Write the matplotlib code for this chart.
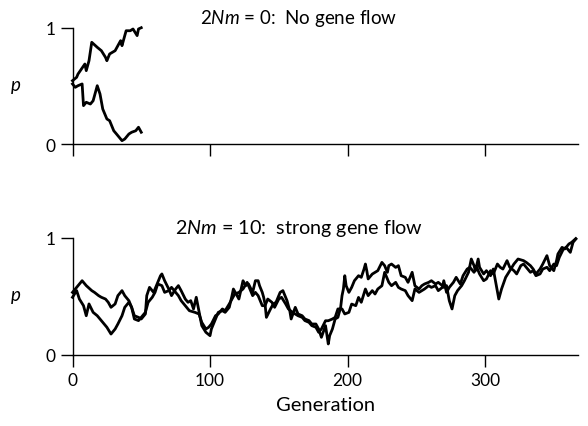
import matplotlib
matplotlib.use("Agg")
import matplotlib.pyplot as plt

plt.rcParams['font.family'] = ['Lato', 'DejaVu Sans']
plt.rcParams['mathtext.fontset'] = 'custom'
plt.rcParams['mathtext.rm'] = 'Lato'
plt.rcParams['mathtext.it'] = 'Lato:italic'

# ---- top panel: 2Nm = 0 ----
top_gen_a = [0, 3, 4, 9, 10, 12, 14, 18, 21, 24, 25, 27, 31, 33, 35, 36, 38, 39, 42, 44, 47, 48, 50]
top_p_a = [0.546, 0.575, 0.603, 0.689, 0.632, 0.717, 0.875, 0.832, 0.803, 0.746, 0.717, 0.775,
           0.803, 0.846, 0.889, 0.846, 0.932, 0.974, 0.974, 0.989, 0.932, 0.989, 1.0]
top_gen_b = [0, 2, 4, 7, 8, 10, 13, 15, 18, 20, 22, 25, 27, 30, 32, 36, 38, 41, 43, 46, 48, 50]
top_p_b = [0.518, 0.489, 0.503, 0.518, 0.332, 0.361, 0.346, 0.374, 0.503, 0.432, 0.303, 0.218,
           0.203, 0.117, 0.089, 0.032, 0.046, 0.089, 0.104, 0.117, 0.147, 0.104]

# ---- bottom panel: 2Nm = 10 ----
bot_gen_a = [0, 3, 7, 10, 14, 16, 19, 21, 24, 26, 28, 31, 33, 36, 38, 41, 43, 45, 48, 50, 53,
             54, 56, 59, 61, 64, 65, 67, 70, 72, 75, 77, 79, 82, 84, 86, 88, 90, 94, 97, 100,
             101, 104, 106, 109, 111, 114, 116, 117, 119, 121, 124, 126, 128, 131, 133, 135,
             136, 138, 139, 140, 141, 144, 146, 148, 151, 153, 156, 158, 159, 162, 164, 167,
             169, 172, 174, 177, 179, 181, 184, 186, 187, 189, 191, 193, 195, 196, 197, 198,
             199, 201, 203, 205, 208, 210, 212, 213, 214, 215, 218, 220, 222, 225, 227, 229,
             230, 232, 235, 237, 239, 242, 244, 247, 248, 249, 252, 254, 256, 259, 261, 264,
             266, 269, 270, 272, 274, 276, 278, 280, 283, 285, 288, 290, 292, 293, 295, 296,
             299, 301, 304, 306, 308, 310, 312, 315, 318, 321, 324, 328, 330, 333, 335, 337,
             340, 342, 345, 347, 350, 352, 353, 356, 358, 361, 363, 365, 366]
bot_p_a = [0.534, 0.577, 0.634, 0.592, 0.549, 0.534, 0.506, 0.492, 0.477, 0.449, 0.406, 0.435,
           0.506, 0.549, 0.506, 0.463, 0.406, 0.334, 0.320, 0.306, 0.349,
           0.506, 0.577, 0.534, 0.592, 0.677, 0.692, 0.634, 0.563, 0.506, 0.563, 0.592, 0.549,
           0.477, 0.449, 0.463, 0.392, 0.492, 0.249, 0.192, 0.163,
           0.220, 0.306, 0.363, 0.377, 0.363, 0.406, 0.506, 0.563, 0.520, 0.477, 0.634, 0.592,
           0.606, 0.534, 0.634, 0.634, 0.592, 0.534, 0.492, 0.435, 0.320, 0.392, 0.435, 0.449,
           0.534, 0.549, 0.463, 0.377, 0.306, 0.406, 0.349, 0.334, 0.306, 0.292, 0.263, 0.263,
           0.220, 0.149, 0.249, 0.092, 0.163, 0.220, 0.306, 0.320, 0.406, 0.506, 0.563, 0.677,
           0.591, 0.534, 0.577, 0.634, 0.677, 0.663, 0.734, 0.777, 0.720, 0.649, 0.691, 0.706,
           0.720, 0.791, 0.763, 0.706, 0.763, 0.777, 0.748, 0.763, 0.677, 0.663, 0.620, 0.706,
           0.649, 0.591, 0.563, 0.591, 0.606, 0.620, 0.634, 0.606, 0.620, 0.591, 0.577, 0.592,
           0.463, 0.392, 0.506, 0.549, 0.592, 0.634, 0.706, 0.820, 0.763, 0.720, 0.820, 0.749,
           0.692, 0.720, 0.677, 0.734, 0.606, 0.477, 0.563, 0.663, 0.720, 0.777, 0.820, 0.806,
           0.791, 0.763, 0.734, 0.692, 0.734, 0.777, 0.849, 0.763, 0.720, 0.806, 0.863, 0.920,
           0.906, 0.949, 0.963, 0.985, 0.995]
bot_gen_b = [0, 3, 5, 8, 10, 12, 15, 18, 20, 22, 25, 28, 31, 33, 36, 38, 41, 43, 45, 48, 50,
             53, 55, 58, 60, 62, 65, 67, 70, 72, 75, 77, 79, 82, 85, 89, 92, 94, 97, 99, 101,
             104, 106, 109, 111, 114, 116, 118, 121, 124, 127, 131, 133, 135, 138, 140, 142,
             145, 147, 150, 152, 155, 157, 160, 162, 164, 167, 169, 172, 174, 177, 179, 181,
             184, 186, 189, 191, 193, 196, 198, 201, 203, 206, 208, 210, 213, 215, 218, 220,
             222, 225, 227, 230, 232, 235, 237, 239, 242, 244, 247, 249, 252, 254, 256, 259,
             261, 264, 266, 269, 270, 272, 274, 277, 279, 282, 284, 287, 289, 292, 294, 296,
             299, 301, 304, 306, 309, 311, 313, 316, 318, 321, 323, 326, 328, 330, 333, 335,
             337, 340, 342, 345, 347, 350, 352, 354, 357, 359, 362, 364, 366]
bot_p_b = [0.492, 0.549, 0.477, 0.420, 0.334, 0.435, 0.363, 0.334, 0.306, 0.277, 0.235, 0.177,
           0.220, 0.263, 0.334, 0.406, 0.449, 0.406, 0.306, 0.292, 0.320,
           0.363, 0.449, 0.492, 0.534, 0.606, 0.592, 0.534, 0.549, 0.577, 0.534, 0.506, 0.463,
           0.420, 0.377, 0.363, 0.349, 0.277, 0.220, 0.235, 0.263,
           0.334, 0.349, 0.392, 0.377, 0.435, 0.477, 0.520, 0.534, 0.563, 0.620, 0.506, 0.534,
           0.506, 0.420, 0.420, 0.477, 0.449, 0.406, 0.477, 0.492, 0.435, 0.392, 0.363, 0.349,
           0.334, 0.320, 0.292, 0.277, 0.249, 0.235, 0.192, 0.220,
           0.291, 0.291, 0.306, 0.320, 0.392, 0.392, 0.349, 0.363, 0.434, 0.420, 0.491, 0.449,
           0.563, 0.506, 0.549, 0.520, 0.563, 0.591, 0.706, 0.620, 0.591, 0.620, 0.577, 0.563,
           0.549, 0.506, 0.463, 0.563, 0.534, 0.549, 0.563, 0.591, 0.577, 0.591, 0.549, 0.577,
           0.634, 0.534, 0.577, 0.620, 0.663, 0.606, 0.677, 0.734, 0.749, 0.706, 0.749, 0.692,
           0.634, 0.649, 0.720, 0.692, 0.777, 0.749, 0.734, 0.806, 0.749, 0.720, 0.692, 0.763,
           0.777, 0.749, 0.706, 0.720, 0.677, 0.692, 0.734, 0.749, 0.720, 0.777, 0.763, 0.834,
           0.906, 0.920, 0.877, 0.963, 0.991]

x_ticks = [0, 100, 200, 300]
y_ticks = [0, 1]
titles = [r"2$Nm$ = 0:  No gene flow", r"2$Nm$ = 10:  strong gene flow"]
xmax = 367.6

fig = plt.figure(figsize=(5.88, 4.27), dpi=100)
ax_top = fig.add_axes([72.5 / 588, 1 - 145.4 / 427, (578 - 72.5) / 588, 116.7 / 427])
ax_bot = fig.add_axes([72.5 / 588, 1 - 355.7 / 427, (578 - 72.5) / 588, 116.7 / 427])

lw = 2.0
ax_top.plot(top_gen_a, top_p_a, color='black', lw=lw, clip_on=False)
ax_top.plot(top_gen_b, top_p_b, color='black', lw=lw, clip_on=False)
ax_bot.plot(bot_gen_a, bot_p_a, color='black', lw=lw, clip_on=False)
ax_bot.plot(bot_gen_b, bot_p_b, color='black', lw=lw, clip_on=False)

for ax, title, show_labels, fs in [(ax_top, titles[0], False, 13.5), (ax_bot, titles[1], True, 14.2)]:
    ax.set_xlim(0, xmax)
    ax.set_ylim(0, 1)
    ax.spines['top'].set_visible(False)
    ax.spines['right'].set_visible(False)
    ax.spines['left'].set_bounds(0, 1)
    for s in ('left', 'bottom'):
        ax.spines[s].set_linewidth(1.0)
    ax.set_xticks(x_ticks)
    ax.set_yticks(y_ticks)
    ax.tick_params(axis='both', direction='out', length=8.5, width=1.0, labelsize=12.5, pad=4)
    if not show_labels:
        ax.set_xticklabels([])
    ax.set_ylabel('$p$', rotation=0, fontsize=13.5, va='center')
    ax.yaxis.set_label_coords(-0.113, 0.5)
    ax.text(0.448, 1.09, title, transform=ax.transAxes, ha='center', va='center', fontsize=fs)

ax_bot.set_xlabel('Generation', fontsize=14.5, labelpad=6)

fig.savefig('out.png', dpi=100)
